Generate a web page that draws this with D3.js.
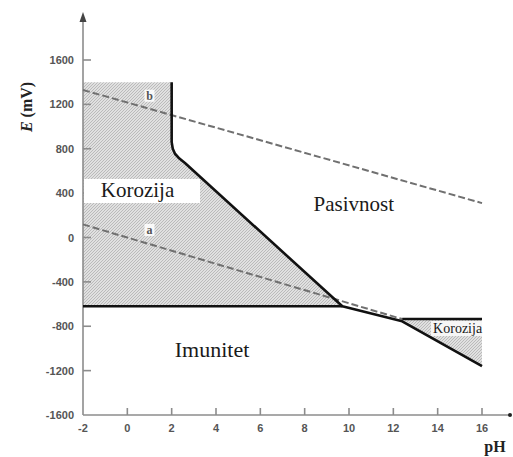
<!DOCTYPE html>
<html><head><meta charset="utf-8">
<script src="https://cdn.jsdelivr.net/npm/d3@7"></script>
<style>body{margin:0;background:#fff}svg{display:block}</style>
</head><body>
<script>
const xTicks = [-2,0,2,4,6,8,10,12,14,16];
const yTicks = [-1600,-1200,-800,-400,0,400,800,1200,1600];
// Solid boundary (pH, E mV)
const boundaryPH = [2, 2, 2.05, 2.15, 2.35, 2.6, 9.7, 12.4, 16];
const boundaryE  = [1400, 860, 800, 755, 712, 672, -620, -755, -1160];
const immunityPH = [-2, 9.7];
const immunityE  = [-620, -620];
const rightPH = [12.4, 16];
const rightE  = [-735, -735];
// water lines
const lineA_PH = [-2, 12.4];
const lineA_E  = [118, -735];
const lineB_PH = [-2, 16];
const lineB_E  = [1330, 310];
// corrosion regions
const corr1PH = [-2, 2, 2, 2.05, 2.15, 2.35, 2.6, 9.7, -2];
const corr1E  = [1400, 1400, 860, 800, 755, 712, 672, -620, -620];
const corr2PH = [12.4, 16, 16];
const corr2E  = [-745, -735, -1160];
const labels = [
  {t:"Korozija", ph:0.46, e:366, size:21},
  {t:"Pasivnost", ph:10.22, e:239, size:21},
  {t:"Imunitet", ph:3.82, e:-1077, size:22},
  {t:"Korozija", ph:14.9, e:-861, size:14}
];

const W=513,H=457;
const svg=d3.select("body").append("svg").attr("width",W).attr("height",H);
const x=d3.scaleLinear().domain([-2,16]).range([83,482]);
const y=d3.scaleLinear().domain([-1600,1600]).range([415,60]);

const defs=svg.append("defs");
const pat=defs.append("pattern").attr("id","hatch").attr("patternUnits","userSpaceOnUse")
  .attr("width",3).attr("height",3);
pat.append("rect").attr("width",3).attr("height",3).attr("fill","#e0e0e0");
pat.append("path").attr("d","M-1,1 l2,-2 M0,3 l3,-3 M2,4 l2,-2").attr("stroke","#b0b0b0").attr("stroke-width",0.8);

const line=d3.line().x(d=>x(d[0])).y(d=>y(d[1]));
const zip=(a,b)=>a.map((v,i)=>[v,b[i]]);

svg.append("path").attr("d",line(zip(corr1PH,corr1E))+"Z").attr("fill","url(#hatch)");
svg.append("path").attr("d",line(zip(corr2PH,corr2E))+"Z").attr("fill","url(#hatch)");

// axes
const g=svg.append("g").attr("fill","none").attr("stroke","#8c8c8c").attr("stroke-width",1.6);
g.append("line").attr("x1",x(-2)).attr("x2",x(-2)).attr("y1",y(-1600)).attr("y2",18);
svg.append("path").attr("d",`M${x(-2)},12 l-3.5,10 l7,0 Z`).attr("fill","#444");
g.append("line").attr("x1",x(-2)).attr("x2",509).attr("y1",y(-1600)).attr("y2",y(-1600));
svg.append("circle").attr("cx",510).attr("cy",y(-1600)).attr("r",2).attr("fill","#222");
yTicks.forEach(v=>{ if(v>-1600) g.append("line").attr("x1",x(-2)).attr("x2",x(-2)+8).attr("y1",y(v)).attr("y2",y(v)); });
xTicks.forEach(v=>{ if(v>-2) g.append("line").attr("x1",x(v)).attr("x2",x(v)).attr("y1",y(-1600)).attr("y2",y(-1600)-7); });
svg.selectAll(".yl").data(yTicks).join("text").attr("x",74).attr("y",d=>y(d)+4)
  .attr("text-anchor","end").attr("font-family","Liberation Sans, Arial, sans-serif").attr("font-weight","bold")
  .attr("font-size",11).attr("fill","#555").text(d=>d);
svg.selectAll(".xl").data(xTicks).join("text").attr("x",d=>x(d)).attr("y",432)
  .attr("text-anchor","middle").attr("font-family","Liberation Sans, Arial, sans-serif").attr("font-weight","bold")
  .attr("font-size",11).attr("fill","#555").text(d=>d);

// dashed lines
[[lineA_PH,lineA_E],[lineB_PH,lineB_E]].forEach(([p,e])=>{
  svg.append("path").attr("d",line(zip(p,e))).attr("fill","none").attr("stroke","#707070")
    .attr("stroke-width",2).attr("stroke-dasharray","7,3");
});

// solid lines
[[boundaryPH,boundaryE],[immunityPH,immunityE],[rightPH,rightE]].forEach(([p,e])=>{
  svg.append("path").attr("d",line(zip(p,e))).attr("fill","none").attr("stroke","#111")
    .attr("stroke-width",2.6).attr("stroke-linejoin","round");
});

// line labels
[["b",1.0,1260],["a",1.0,50]].forEach(([t,p,e])=>{
  svg.append("rect").attr("x",x(p)-5).attr("y",y(e)-8).attr("width",10).attr("height",12).attr("fill","#fff").attr("opacity",0.85);
  svg.append("text").attr("x",x(p)).attr("y",y(e)+2).attr("text-anchor","middle")
    .attr("font-family","Liberation Serif, Times New Roman, serif").attr("font-weight","bold").attr("font-size",12).attr("fill","#555").text(t);
});

// white boxes behind corrosion labels
svg.append("rect").attr("x",84).attr("y",179).attr("width",116).attr("height",24).attr("fill","#fff");
svg.append("rect").attr("x",431).attr("y",321).attr("width",51).attr("height",15).attr("fill","#f6f6f6");

labels.forEach(l=>{
  svg.append("text").attr("x",x(l.ph)).attr("y",y(l.e)).attr("text-anchor","middle")
    .attr("font-family","Liberation Serif, Times New Roman, serif").attr("font-size",l.size).attr("fill","#1a1a1a").text(l.t);
});

// axis titles
const yt=svg.append("text").attr("transform","translate(32,107) rotate(-90)").attr("text-anchor","middle")
  .attr("font-family","Liberation Serif, Times New Roman, serif").attr("font-weight","bold").attr("font-size",16).attr("fill","#222");
yt.append("tspan").attr("font-style","italic").text("E");
yt.append("tspan").text(" (mV)");
svg.append("text").attr("x",495).attr("y",452).attr("text-anchor","middle")
  .attr("font-family","Liberation Serif, Times New Roman, serif").attr("font-weight","bold").attr("font-size",16).attr("fill","#222").text("pH");
</script>
</body></html>
